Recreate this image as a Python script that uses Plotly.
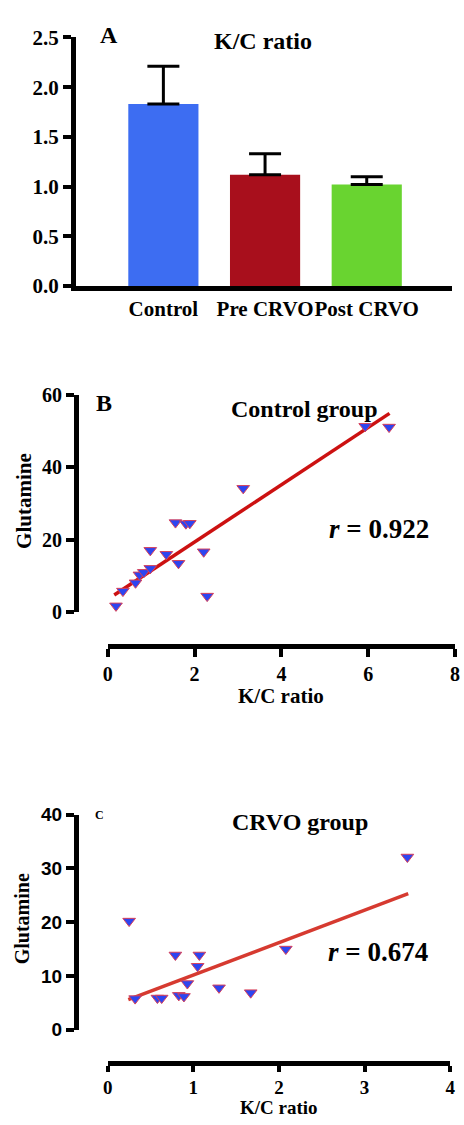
import plotly.graph_objects as go

W, H = 464, 1125

# ---------------- data ----------------
categories = ["Control", "Pre CRVO", "Post CRVO"]
kc_mean = [1.83, 1.12, 1.02]
kc_err = [0.38, 0.21, 0.08]
bar_colors = ["#3d6df2", "#a80f1c", "#69d430"]

control_kc = [0.19, 0.35, 0.64, 0.73, 0.83, 0.98, 0.98, 1.35, 1.63, 1.56, 1.80, 1.89, 2.21, 2.29, 3.12, 5.93, 6.48]
control_glu = [1.6, 5.7, 8.0, 10.2, 10.9, 12.0, 17.0, 15.9, 13.4, 24.7, 24.4, 24.5, 16.6, 4.3, 34.2, 51.4, 51.2]
control_fit_x = [0.15, 6.49]
control_fit_y = [4.6, 55.0]

crvo_kc = [0.25, 0.32, 0.58, 0.63, 0.79, 0.83, 0.89, 0.93, 1.05, 1.07, 1.30, 1.67, 2.08, 3.50]
crvo_glu = [20.2, 5.8, 5.9, 5.9, 13.9, 6.4, 6.2, 8.6, 11.8, 13.9, 7.8, 6.9, 15.0, 32.1]
crvo_fit_x = [0.24, 3.51]
crvo_fit_y = [5.6, 25.3]

bar_yticks = [0, 0.5, 1.0, 1.5, 2.0, 2.5]
b_xticks = [0, 2, 4, 6, 8]
b_yticks = [0, 20, 40, 60]
c_xticks = [0, 1, 2, 3, 4]
c_yticks = [0, 10, 20, 30, 40]

# ---------------- helpers ----------------
SERIF = "Liberation Serif"
SANS = "Liberation Sans"
LW = 5


def px(x):
    return x / W


def py(y):
    return 1 - y / H


def axis_common(**kw):
    d = dict(showgrid=False, zeroline=False, showline=True, linecolor="#000000",
             linewidth=LW, ticks="outside", ticklen=8, tickwidth=4, tickcolor="#000000",
             tickangle=0)
    d.update(kw)
    return d


fig = go.Figure()

# Panel A: bars
fig.add_trace(go.Bar(
    x=categories, y=kc_mean, marker=dict(color=bar_colors, line=dict(width=0)),
    width=0.69,
    error_y=dict(type="data", symmetric=False, array=kc_err, arrayminus=[0] * len(kc_err),
                 thickness=3, width=16, color="black"),
    xaxis="x", yaxis="y", showlegend=False,
))

# Panel B: scatter + fit
fig.add_trace(go.Scatter(
    x=control_fit_x, y=control_fit_y, mode="lines",
    line=dict(color="#cc1111", width=3.5), xaxis="x2", yaxis="y2", showlegend=False,
))
fig.add_trace(go.Scatter(
    x=control_kc, y=control_glu, mode="markers",
    marker=dict(symbol="triangle-down", size=11, color="#2d45f0",
                line=dict(color="#d8405a", width=1)),
    xaxis="x2", yaxis="y2", showlegend=False, cliponaxis=False,
))

# Panel C: scatter + fit
fig.add_trace(go.Scatter(
    x=crvo_fit_x, y=crvo_fit_y, mode="lines",
    line=dict(color="#d63a30", width=3.5), xaxis="x3", yaxis="y3", showlegend=False,
))
fig.add_trace(go.Scatter(
    x=crvo_kc, y=crvo_glu, mode="markers",
    marker=dict(symbol="triangle-down", size=11, color="#2d45f0",
                line=dict(color="#d8405a", width=1)),
    xaxis="x3", yaxis="y3", showlegend=False, cliponaxis=False,
))

serif_bold = lambda s: dict(family=SERIF, size=s, color="black", weight="bold")
sans_bold = lambda s: dict(family=SANS, size=s, color="black", weight="bold")

half = LW / 2

fig.update_layout(
    width=W, height=H, autosize=False, margin=dict(l=0, r=0, t=0, b=0),
    paper_bgcolor="white", plot_bgcolor="white",
    # Panel A
    xaxis=axis_common(domain=[px(70 + half), px(457)], range=[-0.86, 2.84], ticks="",
                      anchor="y", tickfont=serif_bold(21), type="category"),
    yaxis=axis_common(domain=[py(280), py(26)], range=[0, 2.5], anchor="x",
                      tickvals=bar_yticks, ticktext=[f"{v:.1f}" for v in bar_yticks],
                      tickfont=serif_bold(21)),
    # Panel B
    xaxis2=axis_common(domain=[px(105), px(460)], range=[0, 8], anchor="free",
                       position=py(650 - half), tickvals=b_xticks, tickfont=serif_bold(20)),
    yaxis2=axis_common(domain=[py(612.7), py(391.7)], range=[0, 60], anchor="free",
                       position=px(70 + half), tickvals=b_yticks, tickfont=serif_bold(20)),
    # Panel C
    xaxis3=axis_common(domain=[px(105), px(455)], range=[0, 4], anchor="free",
                       position=py(1076 - half), tickvals=c_xticks, ticklen=6,
                       tickfont=serif_bold(19)),
    yaxis3=axis_common(domain=[py(1040), py(820)], range=[0, 40], anchor="free",
                       position=px(70 + half), tickvals=c_yticks, tickfont=sans_bold(19)),
)


def ann(text, x, y, size, angle=0, family=SERIF):
    fig.add_annotation(text=text, x=px(x), y=py(y), xref="paper", yref="paper",
                       xanchor="center", yanchor="middle", showarrow=False,
                       textangle=angle, font=dict(family=family, size=size,
                                                  color="black", weight="bold"))


ann("A", 106, 24, 24)
ann("K/C ratio", 264, 30, 24)
ann("B", 101, 400, 24)
ann("Control group", 306, 406, 24)
ann("<i>r</i> = 0.922", 382, 528, 27)
ann("Glutamine", 20, 500, 21, angle=-90)
ann("K/C ratio", 282, 699, 21)
ann("C", 97, 821, 12)
ann("CRVO group", 301, 828, 24)
ann("<i>r</i> = 0.674", 381, 960, 27)
ann("Glutamine", 17.5, 927, 20, angle=-90)
ann("K/C ratio", 280, 1119, 19)

fig.write_html("out.html", config={"displayModeBar": False})
